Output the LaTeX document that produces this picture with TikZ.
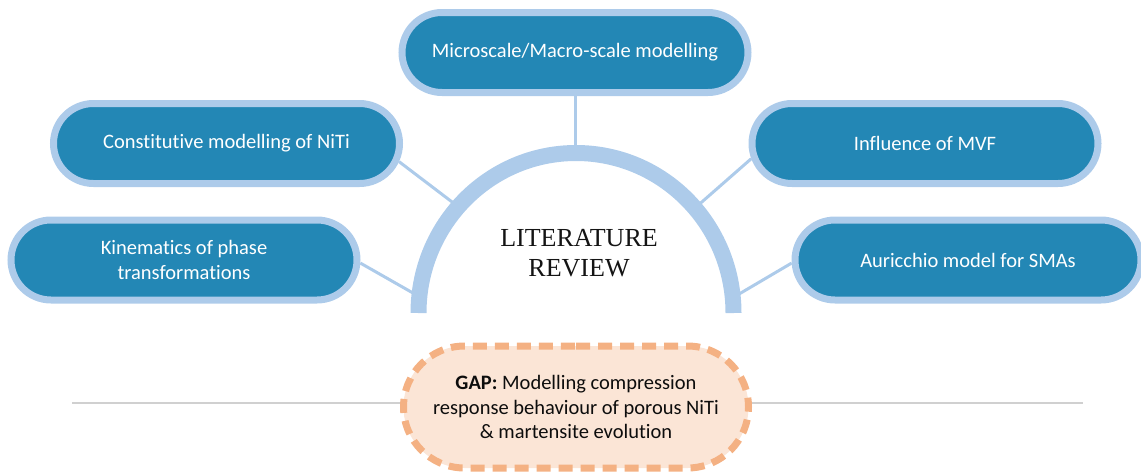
\documentclass[tikz,border=0pt]{standalone}
\usepackage{fontspec}
\setmainfont{Carlito}[Ligatures=NoCommon]
\newfontfamily\litfont{Liberation Serif}
\usetikzlibrary{shapes.misc,backgrounds}
\definecolor{nodefill}{HTML}{2387B5}
\definecolor{nodeborder}{HTML}{ADCBEA}
\definecolor{gapfill}{HTML}{FBE5D6}
\definecolor{gapborder}{HTML}{F4B183}
\definecolor{rulegray}{HTML}{D0D0D0}
\begin{document}
\begin{tikzpicture}[x=1pt,y=-1pt,
  topic/.style={rounded rectangle, draw=nodeborder, fill=nodefill, line width=7pt,
    minimum width=346pt, minimum height=80pt, inner sep=0pt, text=white,
    font=\fontsize{20.5}{25}\selectfont, align=center},
  gapbox/.style={rounded rectangle, draw=gapborder, fill=gapfill, line width=7pt,
    dash pattern=on 14pt off 8pt, minimum width=345pt, minimum height=122pt,
    inner sep=0pt, text=black!95, font=\fontsize{20.5}{24.5}\selectfont, align=center},
  link/.style={draw=nodeborder, line width=3pt},
  arcline/.style={draw=nodeborder, line width=16pt},
  rule/.style={draw=rulegray, line width=1.3pt}]
\useasboundingbox (0,0) rectangle (1141,472);

% nodes
\node[topic] (micro) at (575,52.5) {Microscale/Macro-scale modelling};
\node[topic] (cons) at (226.5,143.5) {Constitutive modelling of NiTi};
\node[topic] (kin) at (184,260) {Kinematics of phase\\transformations};
\node[topic] (infl) at (925,143.5) {Influence of MVF};
\node[topic] (auri) at (968,260) {Auricchio model for SMAs};
\node[gapbox] (gap) at (576,407) {\textbf{GAP:} Modelling compression\\response behaviour of porous NiTi\\\& martensite evolution};
\node[font=\litfont\fontsize{26}{29.5}\selectfont, align=center, text=black!92, inner sep=0pt] (lit) at (579,253) {LITERATURE\\REVIEW};

% arc
\coordinate (arcL) at (418.5,313);
\coordinate (arctop) at (575,153);
\draw[arcline] (arcL) arc[start angle=180, end angle=360, x radius=157.5, y radius=160];

% connector ends on the arc
\coordinate (c1) at (460,208);
\coordinate (c2) at (420,297);
\coordinate (c3) at (695,208);
\coordinate (c4) at (734,297);
\coordinate (ruleL) at (72,403);
\coordinate (ruleR) at (1083,403);

\begin{pgfonlayer}{background}
  \draw[rule] (ruleL) -- (ruleR);
  \draw[link] (micro.south) -- (arctop);
  \draw[link] (cons.-6.6) -- (c1);
  \draw[link] (kin.-1.2) -- (c2);
  \draw[link] (infl.-175.2) -- (c3);
  \draw[link] (auri.181) -- (c4);
\end{pgfonlayer}
\end{tikzpicture}
\end{document}
